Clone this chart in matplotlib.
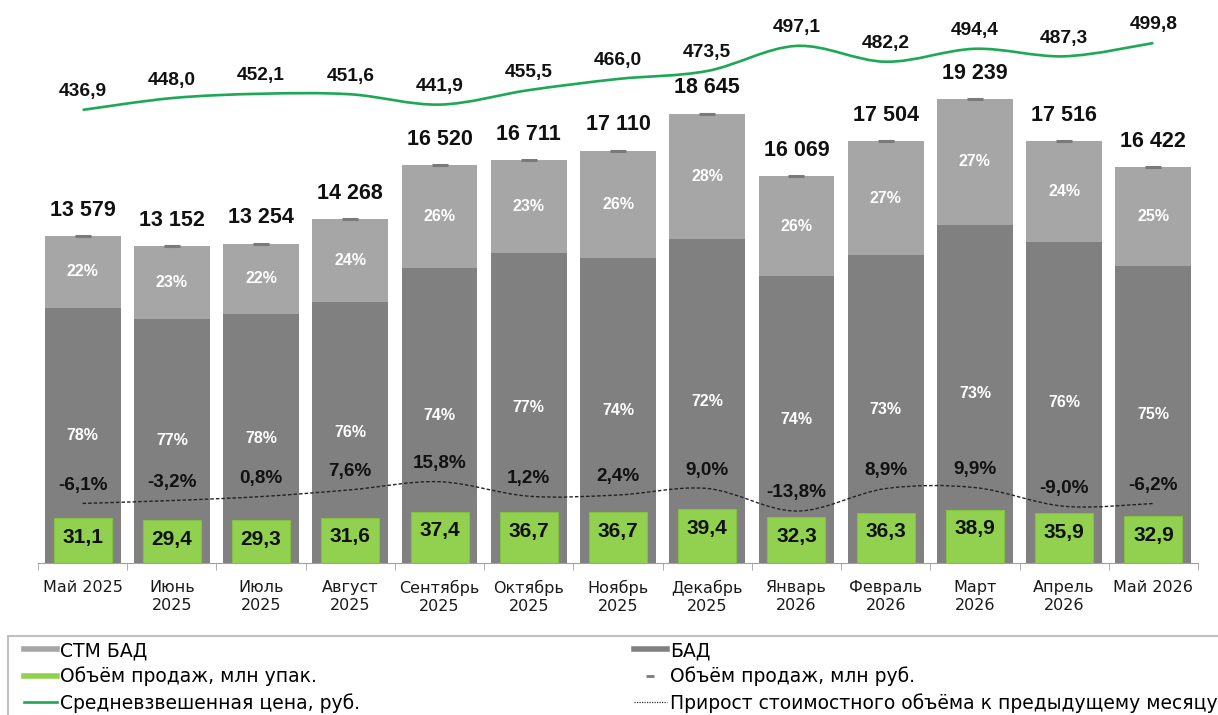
#!/usr/bin/python3

# Monthly sales of dietary supplements (БАД): stacked value bars,
# volume in packs, weighted average price and month-to-month growth.

import matplotlib.pyplot as plt
import numpy as np
from matplotlib.lines import Line2D
from matplotlib.patches import PathPatch, Rectangle
from matplotlib.path import Path

months = ["Май 2025", "Июнь\n2025", "Июль\n2025", "Август\n2025",
          "Сентябрь\n2025", "Октябрь\n2025", "Ноябрь\n2025", "Декабрь\n2025",
          "Январь\n2026", "Февраль\n2026", "Март\n2026", "Апрель\n2026",
          "Май 2026"]
total_rub = [13579, 13152, 13254, 14268, 16520, 16711, 17110, 18645,
             16069, 17504, 19239, 17516, 16422]
stm_share = [22, 23, 22, 24, 26, 23, 26, 28, 26, 27, 27, 24, 25]
bad_share = [78, 77, 78, 76, 74, 77, 74, 72, 74, 73, 73, 76, 75]
packs = [31.1, 29.4, 29.3, 31.6, 37.4, 36.7, 36.7, 39.4, 32.3, 36.3,
         38.9, 35.9, 32.9]
price = [436.9, 448.0, 452.1, 451.6, 441.9, 455.5, 466.0, 473.5, 497.1,
         482.2, 494.4, 487.3, 499.8]
growth = [-6.1, -3.2, 0.8, 7.6, 15.8, 1.2, 2.4, 9.0, -13.8, 8.9, 9.9,
          -9.0, -6.2]

LIGHT = "#A6A6A6"
DARK = "#808080"
GREEN_BOX = "#92D050"
GREEN_LINE = "#1DA856"
NUM_FONT = "Liberation Sans"


def fmt_ru(v, digits=1):
    """Russian number format: comma as decimal separator"""
    return f"{v:.{digits}f}".replace(".", ",")


def smooth_path(xs, ys):
    """Bezier path through the points (Excel-like smoothed line)"""
    p = np.column_stack([xs, ys]).astype(float)
    ext = np.vstack([p[0], p, p[-1]])
    verts = [p[0]]
    codes = [Path.MOVETO]
    for i in range(len(p) - 1):
        p0, p1, p2, p3 = ext[i], ext[i + 1], ext[i + 2], ext[i + 3]
        verts += [p1 + (p2 - p0) / 6, p2 - (p3 - p1) / 6, p2]
        codes += [Path.CURVE4] * 3
    return Path(verts, codes)


def plot(outfile):
    fig = plt.figure(figsize=(12.18, 7.15), dpi=100)
    ax = fig.add_axes([38 / 1218, 152 / 715, 1160 / 1218, 554.3 / 715])
    x = np.arange(len(months))

    total = np.array(total_rub, dtype=float)
    bad = total * np.array(bad_share) / 100
    stm = total - bad

    ax.bar(x, bad, width=0.85, color=DARK, zorder=2)
    ax.bar(x, stm, bottom=bad, width=0.85, color=LIGHT, zorder=2)
    ax.plot(x, total, ls="none", marker="_", ms=11.5, mew=2.2,
            color="#7A7A7A", zorder=3)
    ax.set_ylim(0, 23000)
    ax.set_xlim(-0.5, len(months) - 0.5)

    for i in x:
        ax.annotate(f"{total_rub[i]:,}".replace(",", " "), (i, total[i]),
                    xytext=(0, 18.5), textcoords="offset points",
                    ha="center", va="center", fontsize=15.5,
                    fontweight="bold", family=NUM_FONT, color="#111111")
        ax.text(i, bad[i] + stm[i] / 2, f"{stm_share[i]}%", ha="center",
                va="center", fontsize=11.5, fontweight="bold",
                family=NUM_FONT, color="white", zorder=4)
        ax.text(i, bad[i] / 2, f"{bad_share[i]}%", ha="center",
                va="center", fontsize=11.5, fontweight="bold",
                family=NUM_FONT, color="white", zorder=4)

    # x axis: labels at centres, small ticks between the months
    for side in ["left", "top", "right"]:
        ax.spines[side].set_visible(False)
    ax.spines["bottom"].set_color("#A0A0A0")
    ax.set_yticks([])
    ax.set_xticks(x)
    ax.set_xticklabels(months, fontsize=11.5, color="#1A1A1A")
    for lbl in ax.get_xticklabels():
        lbl.set_linespacing(1.3)
    ax.tick_params(axis="x", which="major", length=0, pad=12)
    ax.set_xticks(np.arange(-0.5, len(months)), minor=True)
    ax.tick_params(axis="x", which="minor", length=5, color="#A0A0A0")

    # volume in packs, green boxes at the foot of the bars
    ax_v = ax.twinx()
    vol_min = -10.7
    ax_v.bar(x, np.array(packs) - vol_min, bottom=vol_min, width=0.65,
             color=GREEN_BOX, edgecolor="#84C043", lw=0.8)
    ax_v.set_ylim(vol_min, 507.3)
    for i in x:
        ax_v.annotate(fmt_ru(packs[i]), (i, packs[i]), xytext=(0, -13.7),
                      textcoords="offset points", ha="center", va="center",
                      fontsize=15, fontweight="bold", family=NUM_FONT,
                      color="#111111")

    # growth to the previous month
    ax_g = ax.twinx()
    ax_g.add_patch(PathPatch(smooth_path(x, growth), fill=False,
                             ec="#222222", lw=1.0, ls=(0, (2.5, 1.5))))
    ax_g.set_ylim(-66.3, 493.7)
    for i in x:
        ax_g.annotate(fmt_ru(growth[i]) + "%", (i, growth[i]),
                      xytext=(0, 13), textcoords="offset points",
                      ha="center", va="center", fontsize=13.6,
                      fontweight="bold", family=NUM_FONT, color="#111111")

    # weighted average price
    ax_p = ax.twinx()
    ax_p.add_patch(PathPatch(smooth_path(x, price), fill=False,
                             ec=GREEN_LINE, lw=1.9))
    ax_p.set_ylim(10.7, 532.1)
    for i in x:
        ax_p.annotate(fmt_ru(price[i]), (i, price[i]), xytext=(0, 13),
                      textcoords="offset points", ha="center", va="center",
                      fontsize=13.8, fontweight="bold", family=NUM_FONT,
                      color="#111111")

    for a in (ax_v, ax_g, ax_p):
        a.set_xlim(-0.5, len(months) - 0.5)
        a.set_yticks([])
        for s in a.spines.values():
            s.set_visible(False)

    # legend in a box at the bottom
    fig.patches.append(Rectangle((8 / 1218, -0.05), 1.1, 0.05 + 79 / 715,
                                 transform=fig.transFigure, fill=False,
                                 ec="#BFBFBF", lw=1.5))
    left = [Line2D([], [], color=LIGHT, lw=4),
            Line2D([], [], color=GREEN_BOX, lw=4),
            Line2D([], [], color=GREEN_LINE, lw=1.9)]
    right = [Line2D([], [], color=DARK, lw=4),
             Line2D([], [], ls="none", marker="_", ms=6, mew=2,
                    color="#7A7A7A"),
             Line2D([], [], color="#333333", lw=0.9, ls=(0, (1, 1)))]
    opts = dict(loc="upper left", frameon=False, fontsize=13.5,
                handlelength=1.75, handletextpad=0.15, labelspacing=0.36,
                borderpad=0, borderaxespad=0)
    fig.legend(left, ["СТМ БАД", "Объём продаж, млн упак.",
                      "Средневзвешенная цена, руб."],
               bbox_to_anchor=(24 / 1218, 1 - 641 / 715), **opts)
    fig.legend(right, ["БАД", "Объём продаж, млн руб.",
                       "Прирост стоимостного объёма к предыдущему месяцу"],
               bbox_to_anchor=(634 / 1218, 1 - 641 / 715), **opts)

    plt.savefig(outfile, dpi=100)


def main():
    plot("out.png")


if __name__ == "__main__":
    main()
